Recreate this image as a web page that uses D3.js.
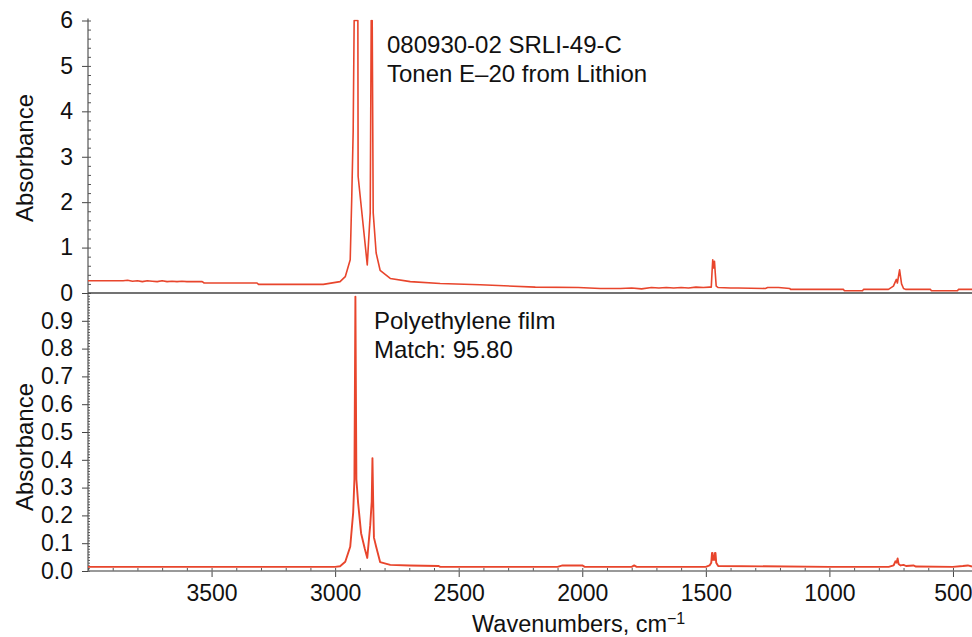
<!DOCTYPE html>
<html>
<head>
<meta charset="utf-8">
<script src="https://cdn.jsdelivr.net/npm/d3@7"></script>
<style>
  body { margin: 0; background: #fff; }
  svg { display: block; font-family: "Liberation Sans", Arial, sans-serif; }
  .tick text { font-size: 23px; fill: #111; }
</style>
</head>
<body>
<div id="chart"></div>
<script>
// sample spectrum (top panel)
var sampleWn = [4000, 3858, 3840, 3820, 3800, 3780, 3760, 3740, 3720, 3700, 3680, 3660, 3640, 3620, 3600, 3560,
  3538, 3530, 3316, 3310, 3048, 2980, 2959, 2939, 2933, 2927, 2923, 2908, 2907, 2870, 2858, 2854, 2850, 2846,
  2834, 2818, 2777, 2696, 2575, 2413, 2190, 2016, 1927, 1846, 1800, 1760, 1720, 1690, 1660, 1630, 1600, 1570,
  1540, 1510, 1485, 1478, 1475, 1472, 1469, 1465, 1462, 1458, 1450, 1400, 1370, 1259, 1250, 1206, 1160, 1158,
  943, 940, 866, 862, 761, 741, 729, 725, 716, 708, 700, 692, 591, 588, 481, 478, 423];
var sampleAbs = [0.27, 0.27, 0.28, 0.26, 0.27, 0.25, 0.27, 0.26, 0.25, 0.27, 0.25, 0.26, 0.25, 0.26, 0.25, 0.25,
  0.25, 0.22, 0.22, 0.19, 0.19, 0.25, 0.36, 0.73, 2.05, 3.56, 6, 6, 2.57, 0.62, 1.77, 6, 6, 1.77,
  0.88, 0.5, 0.32, 0.25, 0.21, 0.18, 0.13, 0.12, 0.1, 0.1, 0.11, 0.09, 0.12, 0.11, 0.12, 0.11, 0.12, 0.11,
  0.13, 0.12, 0.13, 0.13, 0.45, 0.73, 0.55, 0.7, 0.45, 0.15, 0.12, 0.11, 0.11, 0.1, 0.12, 0.12, 0.1, 0.08,
  0.08, 0.05, 0.05, 0.08, 0.08, 0.15, 0.3, 0.22, 0.51, 0.2, 0.1, 0.08, 0.08, 0.05, 0.05, 0.08, 0.08];

// library match (bottom panel)
var matchWn = [4000, 3500, 3000, 2980, 2959, 2939, 2927, 2922, 2918, 2914, 2907, 2895, 2880, 2870, 2858, 2852,
  2849, 2846, 2843, 2834, 2818, 2777, 2700, 2581, 2575, 2100, 2080, 2000, 1990, 1800, 1790, 1780, 1500, 1485,
  1478, 1475, 1473, 1470, 1466, 1463, 1461, 1458, 1450, 1000, 760, 740, 733, 728, 724, 720, 712, 700, 690, 660,
  650, 500, 460, 440, 423];
var matchAbs = [0.015, 0.015, 0.015, 0.017, 0.033, 0.087, 0.21, 0.33, 0.987, 0.33, 0.245, 0.136, 0.08, 0.047, 0.165, 0.25,
  0.406, 0.25, 0.12, 0.087, 0.032, 0.022, 0.02, 0.018, 0.015, 0.015, 0.02, 0.02, 0.015, 0.015, 0.02, 0.015, 0.015, 0.02,
  0.03, 0.065, 0.065, 0.04, 0.04, 0.065, 0.065, 0.03, 0.018, 0.015, 0.015, 0.02, 0.035, 0.03, 0.045, 0.025, 0.02, 0.022, 0.018, 0.02,
  0.016, 0.015, 0.018, 0.02, 0.016];

var xTicks = [3500, 3000, 2500, 2000, 1500, 1000, 500];
var topTicks = [0, 1, 2, 3, 4, 5, 6];
var botTicks = [0, 0.1, 0.2, 0.3, 0.4, 0.5, 0.6, 0.7, 0.8, 0.9];
var topLabel = ["080930-02 SRLI-49-C", "Tonen E\u201320 from Lithion"];
var botLabel = ["Polyethylene film", "Match: 95.80"];

var W = 972, H = 637;
var left = 88, right = 972, topY = 20.5, midY = 293, botY = 571;
var red = "#e8452c";

var svg = d3.select("#chart").append("svg")
    .attr("width", W)
    .attr("height", H);

var x = d3.scaleLinear().domain([4000, 423]).range([left, right]);
var yTop = d3.scaleLinear().domain([0, 6]).range([midY, topY]);
var yBot = d3.scaleLinear().domain([0, 1]).range([botY, midY]);

svg.append("clipPath").attr("id", "clipTop")
  .append("rect").attr("x", left).attr("y", topY - 1).attr("width", right - left).attr("height", midY - topY + 1);
svg.append("clipPath").attr("id", "clipBot")
  .append("rect").attr("x", left).attr("y", midY + 1).attr("width", right - left).attr("height", botY - midY);

// minor ticks (inside the plot)
svg.append("g")
  .attr("transform", `translate(${left},0)`)
  .call(d3.axisRight(yTop).tickValues(d3.range(0, 6.01, 0.2)).tickSize(3).tickFormat(""))
  .call(g => g.select(".domain").remove())
  .selectAll("line").attr("stroke", "#555");

svg.append("g")
  .attr("transform", `translate(${left},0)`)
  .call(d3.axisRight(yBot).tickValues(d3.range(0, 1.0, 0.01)).tickSize(2).tickFormat(""))
  .call(g => g.select(".domain").remove())
  .selectAll("line").attr("stroke", "#555");

svg.append("g")
  .attr("transform", `translate(0,${botY})`)
  .call(d3.axisTop(x).tickValues(d3.range(4000, 423, -100)).tickSize(3).tickFormat(""))
  .call(g => g.select(".domain").remove())
  .selectAll("line").attr("stroke", "#555");

// major ticks
svg.append("g")
  .attr("transform", `translate(${left},0)`)
  .call(d3.axisLeft(yTop).tickValues(topTicks).tickSize(6).tickPadding(9).tickFormat(d3.format("d")))
  .call(g => g.select(".domain").remove())
  .selectAll("line").attr("stroke", "#444");

svg.append("g")
  .attr("transform", `translate(${left},0)`)
  .call(d3.axisLeft(yBot).tickValues(botTicks).tickSize(6).tickPadding(9).tickFormat(d3.format(".1f")))
  .call(g => g.select(".domain").remove())
  .selectAll("line").attr("stroke", "#444");

svg.append("g")
  .attr("transform", `translate(0,${botY})`)
  .call(d3.axisBottom(x).tickValues(xTicks).tickSize(6).tickPadding(8).tickFormat(d3.format("d")))
  .call(g => g.select(".domain").remove())
  .selectAll("line").attr("stroke", "#444");

// spines
svg.append("line").attr("x1", left).attr("x2", left).attr("y1", topY - 2).attr("y2", botY)
  .attr("stroke", "#555").attr("stroke-width", 1.2);
svg.append("line").attr("x1", left).attr("x2", right).attr("y1", midY).attr("y2", midY)
  .attr("stroke", "#444").attr("stroke-width", 1.6);
svg.append("line").attr("x1", left).attr("x2", right).attr("y1", botY).attr("y2", botY)
  .attr("stroke", "#777").attr("stroke-width", 1.6);

// spectra
var lineTop = d3.line().x((d, i) => x(sampleWn[i])).y(d => yTop(d));
var lineBot = d3.line().x((d, i) => x(matchWn[i])).y(d => yBot(d));

svg.append("path")
  .datum(sampleAbs)
  .attr("clip-path", "url(#clipTop)")
  .attr("d", lineTop)
  .attr("fill", "none")
  .attr("stroke", red)
  .attr("stroke-width", 1.6)
  .attr("stroke-linejoin", "round");

svg.append("path")
  .datum(matchAbs)
  .attr("clip-path", "url(#clipBot)")
  .attr("d", lineBot)
  .attr("fill", "none")
  .attr("stroke", red)
  .attr("stroke-width", 1.9)
  .attr("stroke-linejoin", "round");

// axis titles
svg.append("text")
  .attr("transform", "translate(33,158) rotate(-90)")
  .attr("text-anchor", "middle")
  .attr("font-size", 24)
  .attr("fill", "#111")
  .text("Absorbance");

svg.append("text")
  .attr("transform", "translate(33,447) rotate(-90)")
  .attr("text-anchor", "middle")
  .attr("font-size", 24)
  .attr("fill", "#111")
  .text("Absorbance");

var xt = svg.append("text")
  .attr("x", 472)
  .attr("y", 632)
  .attr("font-size", 23.5)
  .attr("fill", "#111");
xt.append("tspan").text("Wavenumbers, cm");
xt.append("tspan").attr("font-size", 16).attr("dy", -8).text("\u22121");

// annotations
svg.append("g").selectAll("text")
  .data(topLabel)
  .join("text")
  .attr("x", 387)
  .attr("y", (d, i) => 53 + i * 29)
  .attr("font-size", 24)
  .attr("fill", "#111")
  .text(d => d);

svg.append("g").selectAll("text")
  .data(botLabel)
  .join("text")
  .attr("x", 374)
  .attr("y", (d, i) => 329 + i * 29)
  .attr("font-size", 24)
  .attr("fill", "#111")
  .text(d => d);
</script>
</body>
</html>
